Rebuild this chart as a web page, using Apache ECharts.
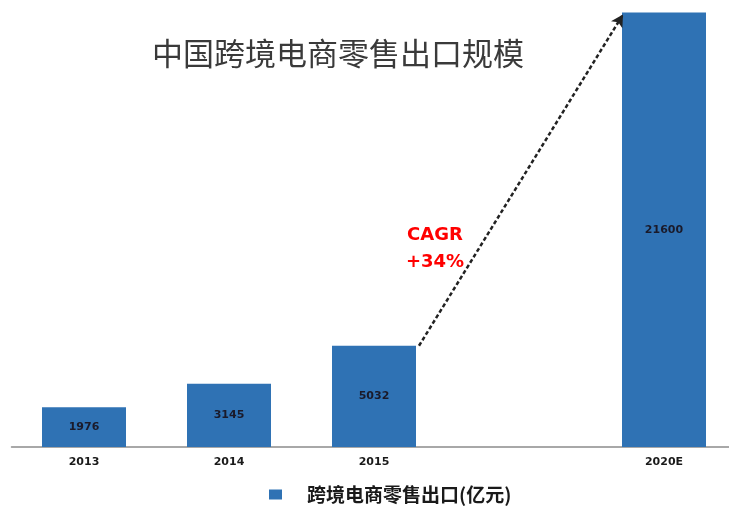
<!DOCTYPE html>
<html>
<head>
<meta charset="utf-8">
<script src="https://cdn.jsdelivr.net/npm/echarts@6/dist/echarts.min.js"></script>
<style>
  html, body { margin: 0; padding: 0; background: #fff; }
  #main { width: 729px; height: 507px; }
</style>
</head>
<body>
<div id="main"></div>
<script>
var years = ['2013', '2014', '2015', '', '2020E'];
var exportValues = [1976, 3145, 5032, null, 21600];
var seriesName = '跨境电商零售出口(亿元)';
var titleText = '中国跨境电商零售出口规模';
var cagrText = 'CAGR\n+34%';

var barColor = '#2f72b4';
var barWidth = 84;

var chart = echarts.init(document.getElementById('main'));

var option = {
    backgroundColor: '#fff',
    animation: false,
    title: {
        text: titleText,
        left: 333,
        textAlign: 'center',
        top: 33,
        textStyle: {
            fontFamily: 'Noto Sans CJK SC',
            fontSize: 31,
            fontWeight: 'normal',
            color: '#3a3a3a'
        }
    },
    legend: {
        data: [seriesName],
        left: 264,
        top: 480,
        icon: 'rect',
        itemWidth: 13,
        itemHeight: 10,
        textStyle: {
            fontFamily: 'Noto Sans CJK SC',
            fontSize: 19,
            fontWeight: 'bold',
            color: '#1a1a1a',
            padding: [0, 0, 0, 20]
        }
    },
    grid: {
        left: 11.5,
        width: 725,
        top: 12.5,
        height: 434.5,
        outerBoundsMode: 'none'
    },
    xAxis: {
        type: 'category',
        data: years,
        axisTick: { show: false },
        axisLine: { lineStyle: { color: '#8c8c8c', width: 1.5 } },
        axisLabel: {
            margin: 10,
            fontFamily: 'DejaVu Sans',
            fontSize: 11,
            fontWeight: 'bold',
            color: '#1a1a1a'
        }
    },
    yAxis: {
        type: 'value',
        min: 0,
        max: 21600,
        show: false,
        splitLine: { show: false }
    },
    series: [{
        name: seriesName,
        type: 'bar',
        data: exportValues,
        barWidth: barWidth,
        itemStyle: { color: barColor },
        label: {
            show: true,
            position: 'inside',
            fontFamily: 'DejaVu Sans',
            fontSize: 11,
            fontWeight: 'bold',
            color: '#1a1a2a'
        }
    }],
    graphic: [{
        type: 'text',
        x: 435,
        y: 222,
        style: {
            text: cagrText,
            fontFamily: 'DejaVu Sans',
            fontSize: 18,
            fontWeight: 'bold',
            fill: '#ff0000',
            lineHeight: 27,
            align: 'center'
        }
    }]
};

chart.setOption(option);

// arrow from the top-right corner of 2015 to the top-left corner of 2020E
var p1 = chart.convertToPixel({ xAxisIndex: 0, yAxisIndex: 0 }, ['2015', exportValues[2]]);
var p2 = chart.convertToPixel({ xAxisIndex: 0, yAxisIndex: 0 }, ['2020E', exportValues[4]]);

chart.setOption({
    series: [{
        markLine: {
            silent: true,
            symbol: ['none', 'arrow'],
            symbolSize: [10, 12],
            label: { show: false },
            lineStyle: { color: '#222', width: 2.5, type: [4, 2.5] },
            data: [[
                { x: p1[0] + barWidth / 2 + 3, y: p1[1] },
                { x: p2[0] - barWidth / 2 + 1, y: p2[1] + 2 }
            ]]
        }
    }]
});
</script>
</body>
</html>
